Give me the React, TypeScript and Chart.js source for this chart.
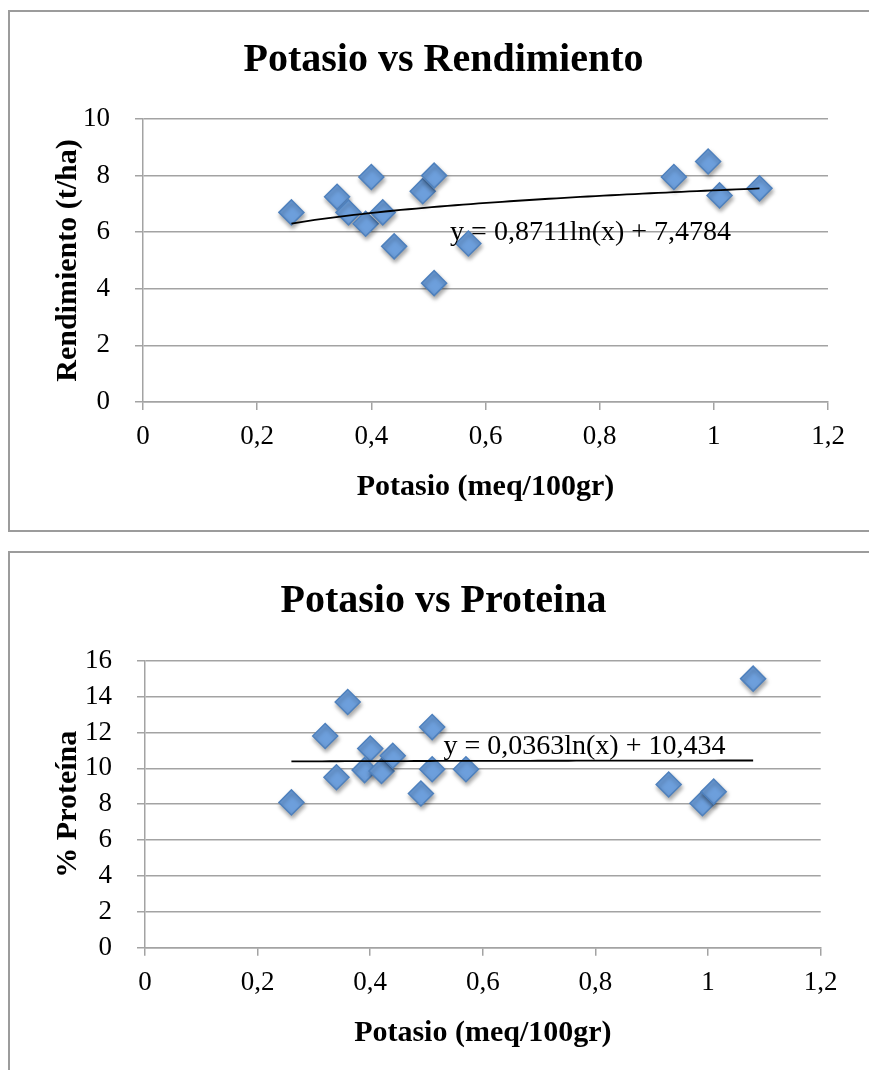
import React, { useEffect, useRef } from 'react';
import { Chart, registerables } from 'chart.js';
Chart.register(...registerables);

// ---- Data ----
const potasioRend = [0.26, 0.34, 0.36, 0.39, 0.4, 0.42, 0.44, 0.49, 0.51, 0.51, 0.57, 0.93, 0.99, 1.01, 1.08];
const rendimiento = [6.7, 7.25, 6.7, 6.3, 7.95, 6.7, 5.5, 7.45, 8.0, 4.2, 5.6, 7.95, 8.5, 7.3, 7.55];

const potasioProt = [0.26, 0.32, 0.34, 0.36, 0.4, 0.39, 0.42, 0.44, 0.49, 0.51, 0.51, 0.57, 0.93, 0.99, 1.01, 1.08];
const proteina = [8.1, 11.8, 9.5, 13.7, 11.1, 9.9, 9.85, 10.7, 8.6, 12.3, 9.95, 9.95, 9.1, 8.05, 8.7, 15.0];

const xTickLabels = ['0', '0,2', '0,4', '0,6', '0,8', '1', '1,2'];
const yTickLabelsRend = ['0', '2', '4', '6', '8', '10'];
const yTickLabelsProt = ['0', '2', '4', '6', '8', '10', '12', '14', '16'];

// Logarithmic trendline coefficients shown on the chart: y = a ln(x) + b
const trendRend = { a: 0.8711, b: 7.4784 };
const trendProt = { a: 0.0363, b: 10.434 };
const trendRendLabel = 'y = 0,8711ln(x) + 7,4784';
const trendProtLabel = 'y = 0,0363ln(x) + 10,434';
const trendRendLabelAt = { x: 0.538, y: 5.97 };
const trendProtLabelAt = { x: 0.53, y: 11.19 };

const SERIF = "'Liberation Serif', 'Times New Roman', serif";
const GRID = '#a3a3a3';

type Props = {
  title: string;
  xTitle: string;
  yTitle: string;
  xs: number[];
  ys: number[];
  yMax: number;
  yTicks: string[];
  trend: { a: number; b: number };
  label: string;
  labelAt: { x: number; y: number };
  width: number;
  height: number;
  chartLeft: number;
  chartRight: number;
  chartTop: number;
  chartBottom: number;
  xTitlePadBottom: number;
};

function trendPoints(xs: number[], t: { a: number; b: number }) {
  const lo = Math.min(...xs);
  const hi = Math.max(...xs);
  const pts: { x: number; y: number }[] = [];
  const n = 60;
  for (let i = 0; i <= n; i++) {
    const x = lo + ((hi - lo) * i) / n;
    pts.push({ x, y: t.a * Math.log(x) + t.b });
  }
  return pts;
}

const markerShadow = {
  id: 'markerShadow',
  beforeDatasetDraw(chart: any, args: any) {
    if (args.index === 1) {
      const c = chart.ctx;
      c.save();
      c.shadowColor = 'rgba(0,0,0,0.35)';
      c.shadowBlur = 4;
      c.shadowOffsetX = 1;
      c.shadowOffsetY = 3;
    }
  },
  afterDatasetDraw(chart: any, args: any) {
    if (args.index === 1) chart.ctx.restore();
  },
};

const trendLabel = {
  id: 'trendLabel',
  afterDatasetsDraw(chart: any, _args: any, opts: any) {
    if (!opts || !opts.text) return;
    const c = chart.ctx;
    const x = chart.scales.x.getPixelForValue(opts.x);
    const y = chart.scales.y.getPixelForValue(opts.y);
    c.save();
    c.font = `28px ${SERIF}`;
    c.fillStyle = '#000';
    c.textAlign = 'left';
    c.textBaseline = 'middle';
    c.fillText(opts.text, x, y);
    c.restore();
  },
};

function ScatterChart(p: Props) {
  const ref = useRef<HTMLCanvasElement | null>(null);
  useEffect(() => {
    if (!ref.current) return;
    const titleFont = 40;
    const titleCenter = 48.3;
    const padTop = titleCenter - (titleFont * 1.2) / 2;
    const padBottom = p.chartTop - padTop - titleFont * 1.2;
    const chart = new Chart(ref.current, {
      type: 'scatter',
      data: {
        datasets: [
          {
            type: 'line',
            data: trendPoints(p.xs, p.trend),
            borderColor: '#000',
            borderWidth: 1.8,
            pointRadius: 0,
            showLine: true,
            tension: 0,
            fill: false,
          } as any,
          {
            data: p.xs.map((x, i) => ({ x, y: p.ys[i] })),
            pointStyle: 'rectRot',
            pointRadius: 12.5,
            backgroundColor: '#6d9fdc',
            borderColor: '#4f81bd',
            borderWidth: 1.5,
          },
        ],
      },
      options: {
        responsive: false,
        animation: false,
        events: [],
        layout: { padding: 0 },
        plugins: {
          legend: { display: false },
          tooltip: { enabled: false },
          title: {
            display: true,
            text: p.title,
            color: '#000',
            font: { family: SERIF, size: titleFont, weight: 'bold', lineHeight: 1.2 },
            padding: { top: padTop, bottom: padBottom },
          },
          trendLabel: { text: p.label, x: p.labelAt.x, y: p.labelAt.y },
        } as any,
        scales: {
          x: {
            type: 'linear',
            min: 0,
            max: 1.2,
            ticks: {
              stepSize: 0.2,
              autoSkip: false,
              maxRotation: 0,
              color: '#000',
              padding: 10.8,
              font: { family: SERIF, size: 27, lineHeight: 1.2 },
              callback: (_v: any, i: number) => xTickLabels[i] ?? '',
            },
            grid: { display: true, drawOnChartArea: false, drawTicks: true, tickLength: 8, color: GRID, lineWidth: 1.5 },
            border: { display: true, color: GRID, width: 1.5 },
            title: {
              display: true,
              text: p.xTitle,
              color: '#000',
              font: { family: SERIF, size: 30, weight: 'bold', lineHeight: 1.2 },
              padding: { top: 0, bottom: p.xTitlePadBottom },
            },
            afterFit: (s: any) => {
              s.height = p.height - p.chartBottom;
            },
          },
          y: {
            type: 'linear',
            min: 0,
            max: p.yMax,
            ticks: {
              stepSize: 2,
              autoSkip: false,
              color: '#000',
              padding: 25,
              font: { family: SERIF, size: 27, lineHeight: 1.2 },
              callback: (_v: any, i: number) => p.yTicks[i] ?? '',
            },
            grid: { display: true, drawOnChartArea: true, drawTicks: true, tickLength: 8, color: GRID, lineWidth: 1.5 },
            border: { display: true, color: GRID, width: 1.5 },
            title: {
              display: true,
              text: p.yTitle,
              color: '#000',
              font: { family: SERIF, size: 30, weight: 'bold', lineHeight: 1.2 },
              padding: { top: 40.5, bottom: 0 },
            },
            afterFit: (s: any) => {
              s.width = p.chartLeft;
            },
          },
          y2: {
            type: 'linear',
            position: 'right',
            display: true,
            grid: { display: false, drawTicks: false },
            ticks: { display: false },
            border: { display: false },
            afterFit: (s: any) => {
              s.width = p.width - p.chartRight;
            },
          },
        },
      } as any,
      plugins: [markerShadow, trendLabel],
    });
    return () => chart.destroy();
  }, []);
  return <canvas ref={ref} width={p.width} height={p.height} style={{ display: 'block', width: p.width, height: p.height }} />;
}

export default function App() {
  const boxBorder = '2px solid #9c9c9c';
  return (
    <div style={{ position: 'absolute', left: 0, top: 0, width: 869, height: 1070, overflow: 'hidden', background: '#fff' }}>
      <div style={{ position: 'absolute', left: 8, top: 10, width: 900, height: 522, border: boxBorder, boxSizing: 'border-box' }}>
        <ScatterChart
          title="Potasio vs Rendimiento"
          xTitle="Potasio (meq/100gr)"
          yTitle="Rendimiento (t/ha)"
          xs={potasioRend}
          ys={rendimiento}
          yMax={10}
          yTicks={yTickLabelsRend}
          trend={trendRend}
          label={trendRendLabel}
          labelAt={trendRendLabelAt}
          width={867}
          height={518}
          chartLeft={133}
          chartRight={818}
          chartTop={107}
          chartBottom={390}
          xTitlePadBottom={24.5}
        />
      </div>
      <div style={{ position: 'absolute', left: 8, top: 551, width: 900, height: 600, border: boxBorder, boxSizing: 'border-box' }}>
        <ScatterChart
          title="Potasio vs Proteina"
          xTitle="Potasio (meq/100gr)"
          yTitle="% Proteína"
          xs={potasioProt}
          ys={proteina}
          yMax={16}
          yTicks={yTickLabelsProt}
          trend={trendProt}
          label={trendProtLabel}
          labelAt={trendProtLabelAt}
          width={867}
          height={517}
          chartLeft={135}
          chartRight={810.7}
          chartTop={107.7}
          chartBottom={394.7}
          xTitlePadBottom={18.8}
        />
      </div>
    </div>
  );
}
